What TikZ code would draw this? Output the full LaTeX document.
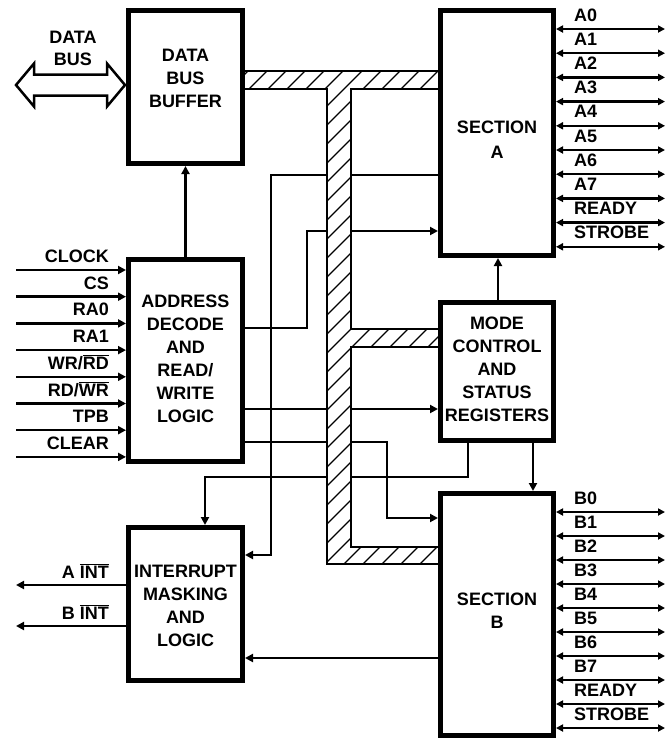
\documentclass[tikz,border=0pt]{standalone}
\usepackage{fontspec}
\setmainfont{Liberation Sans}
\usetikzlibrary{arrows.meta}
\pgfdeclarelayer{bg}
\pgfsetlayers{bg,main}
\begin{document}
\begin{tikzpicture}[x=1pt,y=-1pt,
  blk/.style={draw,line width=5pt,inner sep=0pt,fill=white},
  txt/.style={font=\fontsize{18}{23}\selectfont\bfseries,align=center,inner sep=0pt},
  lbl/.style={font=\fontsize{18}{22}\selectfont\bfseries,inner sep=0pt},
  arr/.style={line width=2.5pt,-{Triangle[length=8pt,width=8pt]}},
  dbl/.style={line width=2.5pt,{Triangle[length=7pt,width=7pt]}-{Triangle[length=7pt,width=7pt]}},
  busline/.style={line width=2pt},
  hatch/.style={line width=1.3pt}]
\useasboundingbox (0,0) rectangle (666,740);

% ---------- hatched internal bus ----------
\fill[white] (238,71) -- (445,71) -- (445,89) -- (351,89) -- (351,329) -- (445,329) -- (445,347) -- (351,347) -- (351,547) -- (445,547) -- (445,564) -- (327,564) -- (327,89) -- (238,89) -- cycle;
\begin{scope}
  \clip (238,71) -- (445,71) -- (445,89) -- (351,89) -- (351,329) -- (445,329) -- (445,347) -- (351,347) -- (351,547) -- (445,547) -- (445,564) -- (327,564) -- (327,89) -- (238,89) -- cycle;
  \foreach \c in {300,319,...,1040} \draw[hatch] (\c-700,700) -- (\c,0);
\end{scope}
\draw[busline] (238,71) -- (445,71) -- (445,89) -- (351,89) -- (351,329) -- (445,329) -- (445,347) -- (351,347) -- (351,547) -- (445,547) -- (445,564) -- (327,564) -- (327,89) -- (238,89) -- cycle;

% ---------- data bus double arrow ----------
\draw[line width=2.5pt,fill=white,line join=miter] (16,85) -- (34,63.5) -- (34,74.5) -- (107,74.5) -- (107,63.5) -- (125,85) -- (107,106.5) -- (107,95.5) -- (34,95.5) -- (34,106.5) -- cycle;
\node[txt,font=\fontsize{18}{22}\selectfont\bfseries] (dbl) at (73,48) {DATA\\BUS};

% ---------- blocks ----------
\node[blk,minimum width=114pt,minimum height=153pt] (dbb) at (185.5,87) {};
\node[blk,minimum width=113pt,minimum height=245pt] (secA) at (497,133) {};
\node[blk,minimum width=113pt,minimum height=138pt] (mode) at (497,371.5) {};
\node[blk,minimum width=113pt,minimum height=242pt] (secB) at (497,614.5) {};
\node[blk,minimum width=114pt,minimum height=202pt] (addr) at (185.5,360.5) {};
\node[blk,minimum width=114pt,minimum height=153pt] (intr) at (185.5,604) {};

\node[txt] (tdbb) at (185.5,78) {DATA\\BUS\\BUFFER};
\node[txt] (tsecA) at (497,140) {SECTION\\[2pt]A};
\node[txt] (tmode) at (497,369) {MODE\\CONTROL\\AND\\STATUS\\REGISTERS};
\node[txt] (tsecB) at (497,611) {SECTION\\B};
\node[txt] (taddr) at (185.5,359) {ADDRESS\\DECODE\\AND\\READ/\\WRITE\\LOGIC};
\node[txt] (tintr) at (185.5,605.5) {INTERRUPT\\MASKING\\AND\\LOGIC};

% ---------- connectors (under bus and blocks) ----------
\begin{pgfonlayer}{bg}
  \draw[arr] (addr.north) -- (dbb.south);
  \draw[arr] (secA.west |- 0,175) -| (271,555) -- (intr.east |- 0,555);
  \draw[arr] (addr.east |- 0,328) -| (307,231) -- (secA.west |- 0,231);
  \draw[arr] (addr.east |- 0,409) -- (mode.west |- 0,409);
  \draw[arr] (addr.east |- 0,442) -| (387,518) -- (secB.west |- 0,518);
  \draw[arr] (mode.south -| 468,0) |- (205,477) -- (intr.north -| 205,0);
  \draw[arr] (mode.north -| 498,0) -- (secA.south -| 498,0);
  \draw[arr] (mode.south -| 533,0) -- (secB.north -| 533,0);
  \draw[arr] (secB.west |- 0,658) -- (intr.east |- 0,658);

  % inputs
  \foreach \t [count=\i from 0] in {CLOCK,CS,RA0,RA1,{WR/$\overline{\mbox{RD}}$},{RD/$\overline{\mbox{WR}}$},TPB,CLEAR}{
    \pgfmathsetmacro{\yy}{270+26.7*\i}
    \coordinate (in\i) at (16,\yy);
    \draw[arr] (in\i) -- (addr.west |- in\i);
    \node[lbl,anchor=base east] (lin\i) at (109,\yy-7.5) {\t};
  }
  % interrupt outputs
  \coordinate (oa) at (16,585);
  \coordinate (ob) at (16,626);
  \draw[arr] (intr.west |- oa) -- (oa);
  \draw[arr] (intr.west |- ob) -- (ob);
  \node[lbl,anchor=base east] (loa) at (109,578) {A $\overline{\mbox{INT}}$};
  \node[lbl,anchor=base east] (lob) at (109,619) {B $\overline{\mbox{INT}}$};

  % port A
  \foreach \t [count=\i from 0] in {A0,A1,A2,A3,A4,A5,A6,A7,READY,STROBE}{
    \pgfmathsetmacro{\yy}{29+24.2*\i}
    \coordinate (pa\i) at (665,\yy);
    \draw[dbl] (secA.east |- pa\i) -- (pa\i);
    \node[lbl,anchor=base west] (lpa\i) at (574,\yy-8) {\t};
  }
  % port B
  \foreach \t [count=\i from 0] in {B0,B1,B2,B3,B4,B5,B6,B7,READY,STROBE}{
    \pgfmathsetmacro{\yy}{512+24*\i}
    \coordinate (pb\i) at (665,\yy);
    \draw[dbl] (secB.east |- pb\i) -- (pb\i);
    \node[lbl,anchor=base west] (lpb\i) at (574,\yy-8) {\t};
  }
\end{pgfonlayer}
\end{tikzpicture}
\end{document}
